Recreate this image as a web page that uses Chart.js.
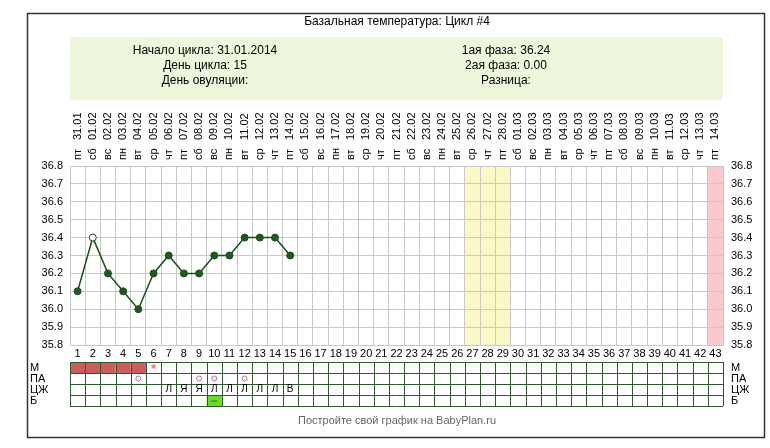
<!DOCTYPE html>
<html><head><meta charset="utf-8">
<script src="https://cdn.jsdelivr.net/npm/chart.js@4/dist/chart.umd.min.js"></script>
<style>html,body{margin:0;padding:0;background:#fff}#w{width:770px;height:448px}</style>
</head><body><div id="w"><canvas id="c" width="770" height="448"></canvas></div>
<script>
const dates=["31.01","01.02","02.02","03.02","04.02","05.02","06.02","07.02","08.02","09.02","10.02","11.02","12.02","13.02","14.02","15.02","16.02","17.02","18.02","19.02","20.02","21.02","22.02","23.02","24.02","25.02","26.02","27.02","28.02","01.03","02.03","03.03","04.03","05.03","06.03","07.03","08.03","09.03","10.03","11.03","12.03","13.03","14.03"];
const weekdays=["пт","сб","вс","пн","вт","ср","чт","пт","сб","вс","пн","вт","ср","чт","пт","сб","вс","пн","вт","ср","чт","пт","сб","вс","пн","вт","ср","чт","пт","сб","вс","пн","вт","ср","чт","пт","сб","вс","пн","вт","ср","чт","пт"];
const temps=[36.1,36.4,36.2,36.1,36.0,36.2,36.3,36.2,36.2,36.3,36.3,36.4,36.4,36.4,36.3];
const hollowDays=[2];
const yTicks=[36.8,36.7,36.6,36.5,36.4,36.3,36.2,36.1,36.0,35.9,35.8];
const mensDays=[1,2,3,4,5];
const starDays=[6];
const paDays=[5,9,10,12];
const czDays=[7,8,9,10,11,12,13,14,15];
const czMarks=["Л","Я","Я","Л","Л","Л","Л","Л","В"];
const bDays=[10];
const yellowDays=[27,28,29];
const pinkDays=[43];
const rowLabels=["М","ПА","ЦЖ","Б"];

const F='"Liberation Sans", Arial, sans-serif';
const pts=temps.map((t,i)=>({x:i+0.5,y:t}));
const plug={id:'deco',
beforeDatasetsDraw(ch){},
beforeDraw(ch){
 const c=ch.ctx,xs=ch.scales.x,ys=ch.scales.y,a=ch.chartArea;
 c.save();
 c.fillStyle='#fff';c.fillRect(0,0,770,448);
 c.fillStyle='#eef6dc';c.fillRect(70,37,653,63);
 const top=ys.getPixelForValue(36.8),bot=ys.getPixelForValue(35.8);
 const band=(d,col)=>{c.fillStyle=col;d.forEach(k=>{const x0=xs.getPixelForValue(k-1),x1=xs.getPixelForValue(k);c.fillRect(x0,top,x1-x0,bot-top);});};
 band(yellowDays,'#fbf8c8');band(pinkDays,'#fbc8cc');
 c.restore();
},
afterDraw(ch){
 const c=ch.ctx,xs=ch.scales.x,ys=ch.scales.y;
 c.save();
 c.strokeStyle='#333';c.lineWidth=1.5;c.strokeRect(27.5,13.5,737,424);
 c.fillStyle='#000';c.font='12px '+F;c.textAlign='center';c.textBaseline='middle';
 c.fillText('Базальная температура: Цикл #4',397,22);
 c.fillText('Начало цикла: 31.01.2014',205,51);
 c.fillText('День цикла: 15',205,66);
 c.fillText('День овуляции:',205,81);
 c.fillText('1ая фаза: 36.24',506,51);
 c.fillText('2ая фаза: 0.00',506,66);
 c.fillText('Разница:',506,81);
 c.font='11px '+F;
 dates.forEach((d,i)=>{const x=xs.getPixelForValue(i+0.5);c.save();c.translate(x,0);c.rotate(-Math.PI/2);c.textAlign='left';c.fillText(weekdays[i],-160,0);c.fillText(d,-140,0);c.restore();});
 yTicks.forEach(v=>{const y=ys.getPixelForValue(v);c.textAlign='right';c.fillText(v.toFixed(1),63,y);c.textAlign='left';c.fillText(v.toFixed(1),731,y);});
 c.textAlign='center';
 dates.forEach((d,i)=>c.fillText(String(i+1),xs.getPixelForValue(i+0.5),354));
 const rt=362,rh=11;
 const cx=k=>xs.getPixelForValue(k-0.5),x0=k=>xs.getPixelForValue(k-1),x1=k=>xs.getPixelForValue(k);
 c.fillStyle='#cd5c5c';mensDays.forEach(k=>c.fillRect(x0(k),rt,x1(k)-x0(k),rh));
 c.fillStyle='#66dd22';bDays.forEach(k=>c.fillRect(x0(k),rt+3*rh,x1(k)-x0(k),rh));
 c.strokeStyle='#2f5a2f';c.lineWidth=1;
 for(let r=0;r<=4;r++){c.beginPath();c.moveTo(x0(1),rt+r*rh+0.5);c.lineTo(x1(43),rt+r*rh+0.5);c.stroke();}
 for(let k=0;k<=43;k++){const x=Math.round(xs.getPixelForValue(k))+0.5;c.beginPath();c.moveTo(x,rt);c.lineTo(x,rt+4*rh);c.stroke();}
 c.fillStyle='#d08080';c.font='bold 13px '+F;starDays.forEach(k=>c.fillText('*',cx(k),rt+7));
 c.strokeStyle='#c07080';paDays.forEach(k=>{c.beginPath();c.arc(cx(k),rt+rh*1.5,2.5,0,7);c.stroke();});
 c.fillStyle='#000';c.font='10px '+F;czDays.forEach((k,i)=>c.fillText(czMarks[i],cx(k),rt+rh*2.5));
 c.fillStyle='#2a6a2a';bDays.forEach(k=>c.fillRect(cx(k)-3,rt+rh*3.5,6,1));
 c.fillStyle='#000';c.font='11px '+F;
 rowLabels.forEach((l,r)=>{c.textAlign='left';c.fillText(l,30,rt+r*rh+5.5);c.fillText(l,731,rt+r*rh+5.5);});
 c.fillStyle='#666';c.textAlign='center';c.font='11px '+F;c.fillText('Постройте свой график на BabyPlan.ru',397,421);
 c.restore();
}};
new Chart(document.getElementById('c'),{type:'line',
data:{datasets:[{data:pts,borderColor:'#1d4d1d',borderWidth:1.5,tension:0,
 pointRadius:3.5,pointBackgroundColor:temps.map((t,i)=>hollowDays.includes(i+1)?'#fff':'#1f5a1f'),
 pointBorderColor:'#1d4d1d',pointBorderWidth:1}]},
options:{responsive:false,animation:false,devicePixelRatio:1,
 layout:{padding:{left:70,right:47,top:166,bottom:103}},
 plugins:{legend:{display:false},tooltip:{enabled:false}},
 scales:{x:{type:'linear',min:0,max:43,ticks:{display:false,stepSize:1},grid:{color:'#c8c8c8',drawTicks:false},border:{color:'#c8c8c8'}},
  y:{min:35.8,max:36.8,ticks:{display:false,stepSize:0.1},grid:{color:'#c8c8c8',drawTicks:false},border:{color:'#c8c8c8'}}}},
plugins:[plug]});
</script></body></html>
